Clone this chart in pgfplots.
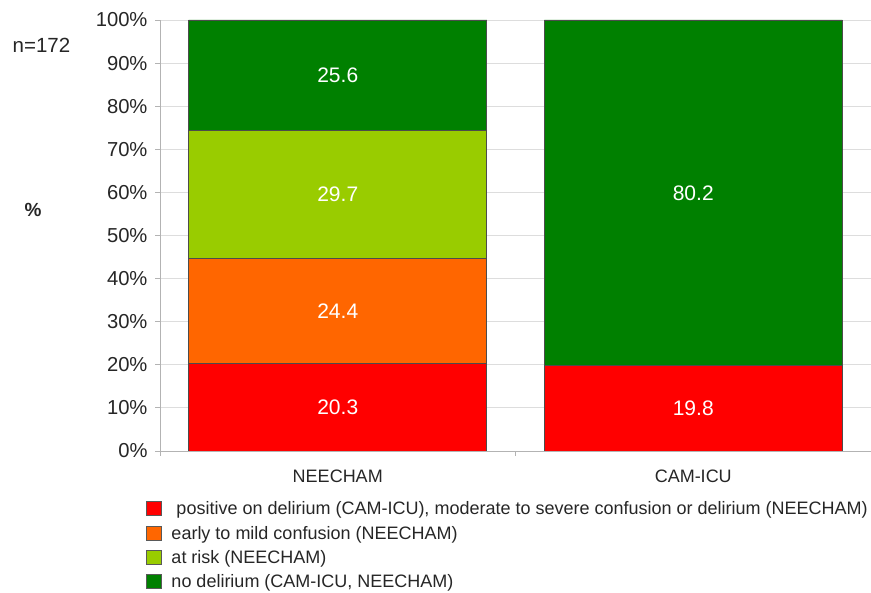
\documentclass[border=0pt]{standalone}
\usepackage{fontspec}
\setmainfont{Liberation Sans}
\usepackage{pgfplots}
\usepackage{pgfplotstable}
\pgfplotsset{compat=1.18}

\definecolor{cRed}{HTML}{FF0000}
\definecolor{cOrange}{HTML}{FF6600}
\definecolor{cLime}{HTML}{99CC00}
\definecolor{cGreen}{HTML}{008000}
\definecolor{gridgray}{HTML}{DDDDDD}
\definecolor{axisgray}{HTML}{B3B3B3}

% stacked shares (%) per instrument
\pgfplotstableread{
x    red   orange lime  green
0.5  20.3  24.4   29.7  25.6
1.5  19.8  0      0     80.2
}\shares

% label positions (segment middles)
\pgfplotstableread{
x    y      lab
0.5  10.15  20.3
0.5  32.5   24.4
0.5  59.55  29.7
0.5  87.2   25.6
1.5  9.9    19.8
1.5  59.9   80.2
}\labels

\begin{document}
\begin{tikzpicture}
\useasboundingbox (0,0) rectangle (871pt,593pt);
\pgfplotsset{
  base/.style={
    scale only axis, width=711pt, height=431pt,
    at={(160pt,142pt)}, anchor=south west,
    xmin=0, xmax=2, ymin=0, ymax=100,
  },
  sq/.style={legend image code/.code={
    \path[draw=none, fill=none] (0pt,2pt) -- (23pt,2pt);
    \draw[##1, draw=black!65, line width=0.6pt] (0pt,-5pt) rectangle (15pt,9pt);}},
}
\begin{axis}[base,
  ybar stacked, bar width=298pt,
  axis lines*=left,
  axis line style={axisgray, line width=0.8pt},
  tick align=outside, major tick length=5pt,
  tick style={axisgray, line width=0.8pt},
  xtick={0,1,2}, xticklabels={},
  extra x ticks={0.5,1.5},
  extra x tick labels={NEECHAM,CAM-ICU},
  extra x tick style={major tick length=0pt},
  ytick={0,10,...,100},
  yticklabel={\pgfmathprintnumber{\tick}\%},
  /pgf/number format/assume math mode=true,
  ymajorgrids, grid style={gridgray, line width=0.8pt},
  yticklabel style={font=\fontsize{20.2}{24}\selectfont, text=black!85, xshift=-4pt},
  xticklabel style={font=\fontsize{18}{22}\selectfont, text=black!85, yshift=-15pt},
  legend cell align=left,
  legend style={at={(-0.0197,-0.1150)}, anchor=north west, draw=none, fill=none,
    inner sep=0pt, row sep=4.3pt,
    font=\fontsize{18}{21}\selectfont,
    nodes={text height=12pt, text depth=4pt, inner sep=2pt, text=black!85}},
]
\addplot[sq, fill=cRed, draw=black!70, line width=0.6pt] table[x=x, y=red] {\shares};
\addlegendentry{\ positive on delirium (CAM-ICU), moderate to severe confusion or delirium (NEECHAM)}
\addplot[sq, fill=cOrange, draw=black!70, line width=0.6pt] table[x=x, y=orange] {\shares};
\addlegendentry{early to mild confusion (NEECHAM)}
\addplot[sq, fill=cLime, draw=black!70, line width=0.6pt] table[x=x, y=lime] {\shares};
\addlegendentry{at risk (NEECHAM)}
\addplot[sq, fill=cGreen, draw=black!70, line width=0.6pt] table[x=x, y=green] {\shares};
\addlegendentry{no delirium (CAM-ICU, NEECHAM)}
\end{axis}

\begin{axis}[base, hide axis]
\addplot[only marks, mark=*, mark size=0pt, mark options={draw=none, fill=none},
  point meta=explicit symbolic,
  nodes near coords,
  nodes near coords style={anchor=center, text=white, font=\fontsize{21}{25}\selectfont}]
  table[x=x, y=y, meta=lab] {\labels};
\end{axis}

\node[font=\fontsize{20.5}{24}\selectfont, text=black!85] at (41.5pt,548pt) {n=172};
\node[font=\bfseries\fontsize{19}{22}\selectfont, text=black!85] at (33pt,383pt) {\%};
\end{tikzpicture}
\end{document}
